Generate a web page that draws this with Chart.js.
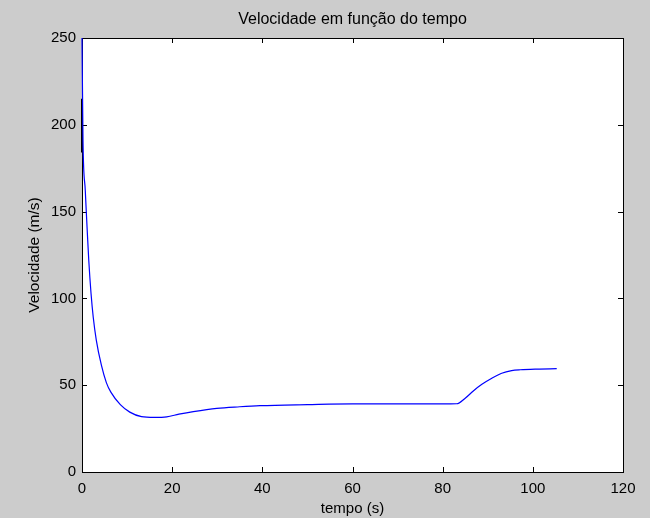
<!DOCTYPE html>
<html>
<head>
<meta charset="utf-8">
<script src="https://cdn.jsdelivr.net/npm/chart.js@4.4.0/dist/chart.umd.min.js"></script>
<style>
  html, body { margin: 0; padding: 0; background: #cccccc; }
  #wrap { width: 650px; height: 518px; }
</style>
</head>
<body>
<div id="wrap"><canvas id="chart" width="650" height="518"></canvas></div>
<script>
// Datos
const tempo = [0, 0.22, 0.73, 0.95, 1.18, 1.5, 2.0, 2.5, 3.17, 4.3, 5.4, 6.4, 8.5, 10.6, 13.2, 16, 18.8, 21.5, 24.7, 29.9, 35, 39.5, 50, 60, 70, 80, 83.1, 85.0, 86.8, 88.7, 90.9, 93.1, 95.3, 97.2, 100.9, 105.3];
const velocidade = [250, 191, 162, 150, 138, 122, 103, 89, 76, 61.5, 51.5, 46, 38.8, 34.5, 31.9, 31.5, 31.8, 33.3, 34.8, 36.7, 37.6, 38.2, 38.8, 39.2, 39.2, 39.2, 39.3, 42.5, 46.7, 50.5, 54.0, 56.9, 58.4, 58.9, 59.3, 59.5];
const tempoPreto = [0, 0];
const velocidadePreto = [215, 184];
const xTicks = [0, 20, 40, 60, 80, 100, 120];
const yTicks = [0, 50, 100, 150, 200, 250];
const titulo = 'Velocidade em função do tempo';

const fontFamily = '"Liberation Sans", Arial, sans-serif';

function toPoints(xs, ys) {
    return xs.map((x, i) => ({ x: x, y: ys[i] }));
}

// Fondo gris, área blanca, caja con marcas hacia adentro y título centrado sobre el área
const fondo = {
    id: 'fondo',
    beforeDraw(chart) {
        const { ctx, chartArea: a } = chart;
        ctx.save();
        ctx.fillStyle = '#cccccc';
        ctx.fillRect(0, 0, chart.width, chart.height);
        ctx.fillStyle = '#ffffff';
        ctx.fillRect(a.left, a.top, a.right - a.left, a.bottom - a.top);
        ctx.restore();
    },
    beforeDatasetsDraw(chart) {
        const { ctx, chartArea: a, scales } = chart;
        const len = 5;
        ctx.save();
        ctx.strokeStyle = '#000000';
        ctx.lineWidth = 1;
        ctx.strokeRect(a.left + 0.5, a.top + 0.5, a.right - a.left, a.bottom - a.top);
        ctx.beginPath();
        xTicks.forEach(v => {
            const px = Math.round(scales.x.getPixelForValue(v)) + 0.5;
            ctx.moveTo(px, a.bottom); ctx.lineTo(px, a.bottom - len);
            ctx.moveTo(px, a.top); ctx.lineTo(px, a.top + len);
        });
        yTicks.forEach(v => {
            const py = Math.round(scales.y.getPixelForValue(v)) + 0.5;
            ctx.moveTo(a.left, py); ctx.lineTo(a.left + len, py);
            ctx.moveTo(a.right, py); ctx.lineTo(a.right - len, py);
        });
        ctx.stroke();
        ctx.restore();
    },
    afterDraw(chart) {
        const { ctx, chartArea: a } = chart;
        ctx.save();
        ctx.fillStyle = '#000000';
        ctx.font = '16px ' + fontFamily;
        ctx.textAlign = 'center';
        ctx.textBaseline = 'middle';
        ctx.fillText(titulo, (a.left + a.right) / 2, 20);
        ctx.restore();
    }
};

new Chart(document.getElementById('chart'), {
    type: 'line',
    data: {
        datasets: [{
            data: toPoints(tempo, velocidade),
            borderColor: '#0000ff',
            borderWidth: 1.2,
            pointRadius: 0,
            cubicInterpolationMode: 'monotone',
            clip: 3
        }, {
            data: toPoints(tempoPreto, velocidadePreto),
            borderColor: '#000000',
            borderWidth: 2,
            pointRadius: 0,
            clip: 3
        }]
    },
    options: {
        responsive: false,
        animation: false,
        devicePixelRatio: 1,
        layout: { padding: { left: 0, right: 27, top: 38, bottom: 0 } },
        plugins: {
            legend: { display: false },
            tooltip: { enabled: false },
            title: { display: false }
        },
        scales: {
            x: {
                type: 'linear',
                min: 0,
                max: 120,
                afterBuildTicks(scale) { scale.ticks = xTicks.map(v => ({ value: v })); },
                afterFit(scale) { scale.height = 46; },
                grid: { display: false, drawTicks: false },
                border: { display: false },
                ticks: { color: '#000000', padding: 8, maxRotation: 0, font: { family: fontFamily, size: 15 } },
                title: {
                    display: true,
                    text: 'tempo (s)',
                    color: '#000000',
                    font: { family: fontFamily, size: 15 },
                    padding: { top: 0, bottom: 0 }
                }
            },
            y: {
                type: 'linear',
                min: 0,
                max: 250,
                afterBuildTicks(scale) { scale.ticks = yTicks.map(v => ({ value: v })); },
                afterFit(scale) { scale.width = 82; },
                grid: { display: false, drawTicks: false },
                border: { display: false },
                ticks: { color: '#000000', padding: 6, font: { family: fontFamily, size: 15 } },
                title: {
                    display: true,
                    text: 'Velocidade (m/s)',
                    color: '#000000',
                    font: { family: fontFamily, size: 15.5 },
                    padding: { top: 25, bottom: 0 }
                }
            }
        }
    },
    plugins: [fondo]
});
</script>
</body>
</html>
